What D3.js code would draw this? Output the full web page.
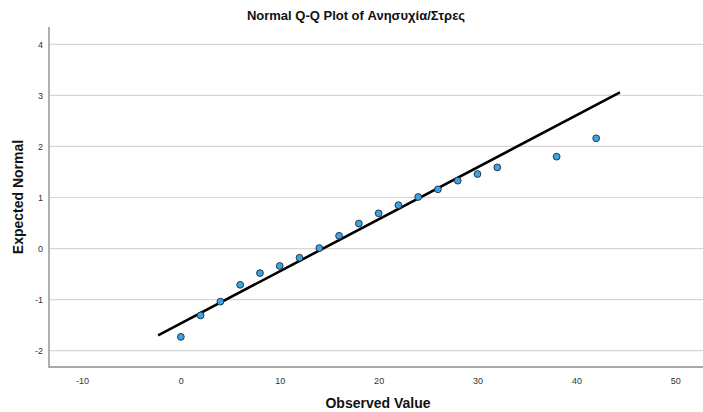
<!DOCTYPE html>
<html>
<head>
<meta charset="utf-8">
<script src="https://cdn.jsdelivr.net/npm/d3@7"></script>
<style>
  body { margin: 0; background: #fff; }
  svg { display: block; font-family: "Liberation Sans", Arial, sans-serif; }
</style>
</head>
<body>
<svg id="chart" width="703" height="412"></svg>
<script>
// observed values and their expected normal scores
const observed = [0, 2, 4, 6, 8, 10, 12, 14, 16, 18, 20, 22, 24, 26, 28, 30, 32, 38, 42];
const expected = [-1.73, -1.31, -1.04, -0.71, -0.48, -0.34, -0.18, 0.01, 0.25, 0.49, 0.69, 0.85, 1.01, 1.16, 1.33, 1.46, 1.59, 1.80, 2.16];

// reference line end points (observed, expected)
const lineX = [-2.3, 44.4];
const lineY = [-1.70, 3.06];

const xTicks = [-10, 0, 10, 20, 30, 40, 50];
const yTicks = [-2, -1, 0, 1, 2, 3, 4];

const svg = d3.select("#chart");
const plotLeft = 49, plotRight = 703, plotTop = 27, plotBottom = 367;

const x = d3.scaleLinear().domain([-13.33, 52.8]).range([plotLeft, plotRight]);
const y = d3.scaleLinear().domain([-2.32, 4.34]).range([plotBottom, plotTop]);

// plain hyphen minus like SPSS output
const fmt = d => String(d);

// gridlines
svg.append("g")
  .selectAll("line")
  .data(yTicks)
  .join("line")
  .attr("x1", plotLeft).attr("x2", plotRight)
  .attr("y1", d => y(d)).attr("y2", d => y(d))
  .attr("stroke", "#d6d6d6")
  .attr("stroke-width", 1.2);

// axes
const yAxis = svg.append("g")
  .attr("transform", `translate(${plotLeft},0)`)
  .call(d3.axisLeft(y).tickValues(yTicks).tickFormat(fmt).tickSize(0).tickPadding(6));
const xAxis = svg.append("g")
  .attr("transform", `translate(0,${plotBottom})`)
  .call(d3.axisBottom(x).tickValues(xTicks).tickFormat(fmt).tickSize(0).tickPadding(11));

[xAxis, yAxis].forEach(g => {
  g.select(".domain").remove();
  g.selectAll("text").attr("fill", "#333").attr("font-size", "9px")
    .attr("font-family", "'Liberation Sans', Arial, sans-serif");
});

svg.append("line")
  .attr("x1", plotLeft).attr("x2", plotLeft).attr("y1", plotTop).attr("y2", plotBottom + 1)
  .attr("stroke", "#a8a8a8").attr("stroke-width", 1.8);
svg.append("line")
  .attr("x1", plotLeft).attr("x2", plotRight).attr("y1", plotBottom).attr("y2", plotBottom)
  .attr("stroke", "#a8a8a8").attr("stroke-width", 1.8);

// reference line
svg.append("line")
  .attr("x1", x(lineX[0])).attr("y1", y(lineY[0]))
  .attr("x2", x(lineX[1])).attr("y2", y(lineY[1]))
  .attr("stroke", "#000").attr("stroke-width", 2.6);

// points
svg.append("g")
  .selectAll("circle")
  .data(observed)
  .join("circle")
  .attr("cx", d => x(d))
  .attr("cy", (d, i) => y(expected[i]))
  .attr("r", 3.4)
  .attr("fill", "#3ea3e6")
  .attr("stroke", "#1b2a36")
  .attr("stroke-width", 0.9);

// titles
svg.append("text")
  .attr("x", 356).attr("y", 20)
  .attr("text-anchor", "middle")
  .attr("font-size", "13px").attr("font-weight", "bold")
  .attr("fill", "#111")
  .text("Normal Q-Q Plot of Ανησυχία/Στρες");

svg.append("text")
  .attr("x", 378).attr("y", 408)
  .attr("text-anchor", "middle")
  .attr("font-size", "14px").attr("font-weight", "bold")
  .attr("fill", "#111")
  .text("Observed Value");

svg.append("text")
  .attr("transform", `translate(23,${(plotTop + plotBottom) / 2}) rotate(-90)`)
  .attr("text-anchor", "middle")
  .attr("font-size", "14px").attr("font-weight", "bold")
  .attr("fill", "#111")
  .text("Expected Normal");
</script>
</body>
</html>
